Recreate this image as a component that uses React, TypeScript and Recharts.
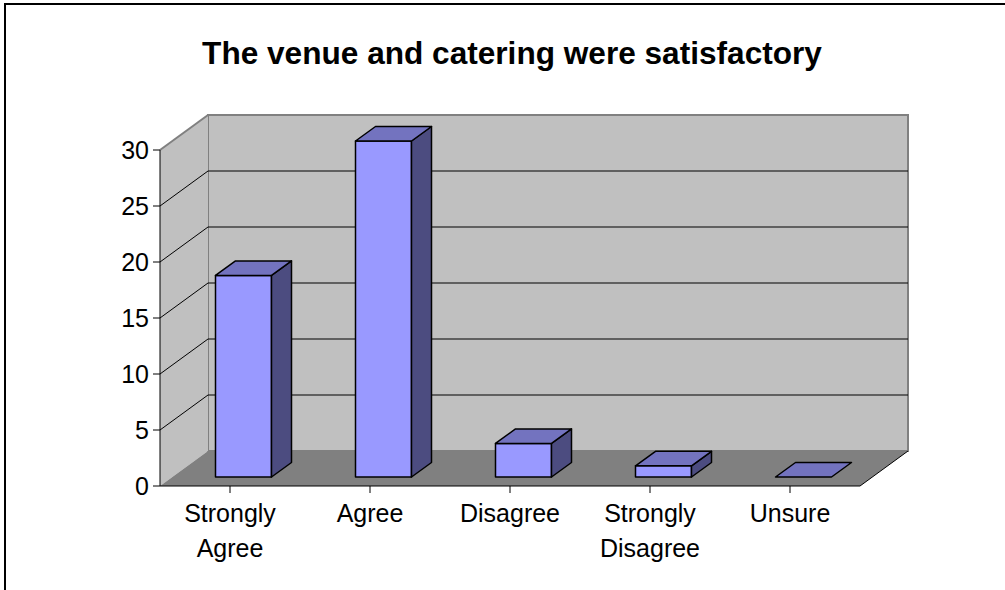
import React from "react";
import { BarChart, Bar, XAxis, YAxis, ReferenceArea } from "recharts";

// survey answers
const categories = ["Strongly Agree", "Agree", "Disagree", "Strongly Disagree", "Unsure"];
const responses = [18, 30, 3, 1, 0];
const yTicks = [0, 5, 10, 15, 20, 25, 30];

const data = categories.map((name, i) => ({ name, value: responses[i] }));

const FONT = '"Liberation Sans", Arial, Helvetica, sans-serif';

// fake 3d: how far the back wall sits from the front plane
const DEPTH_X = 48;
const DEPTH_Y = -35;
// where the bar front sits and how deep the bar is
const BAR_DX = 13.5;
const BAR_DY = -9;
const BAR_DEPTH_X = 20;
const BAR_DEPTH_Y = -14.5;

function Walls(props: any) {
  const { x, y, width, height } = props;
  const l = x, r = x + width, t = y, b = y + height;
  const yMax = yTicks[yTicks.length - 1];
  const gridYs = yTicks.filter((v) => v > 0 && v < yMax).map((v) => b - (height * v) / yMax);
  return (
    <g>
      <rect x={l + DEPTH_X} y={t + DEPTH_Y} width={width} height={height} fill="#c0c0c0" stroke="#808080" strokeWidth={2} />
      <polygon
        points={`${l},${t} ${l + DEPTH_X},${t + DEPTH_Y} ${l + DEPTH_X},${b + DEPTH_Y} ${l},${b}`}
        fill="#c0c0c0"
      />
      <line x1={l} y1={t} x2={l + DEPTH_X} y2={t + DEPTH_Y} stroke="#808080" strokeWidth={2} />
      <polygon
        points={`${l},${b} ${l + DEPTH_X},${b + DEPTH_Y} ${r + DEPTH_X},${b + DEPTH_Y} ${r},${b}`}
        fill="#808080"
      />
      {gridYs.map((gy) => (
        <g key={gy}>
          <line x1={l} y1={gy} x2={l + DEPTH_X} y2={gy + DEPTH_Y} stroke="#000" strokeWidth={1} />
          <line x1={l + DEPTH_X} y1={gy + DEPTH_Y} x2={r + DEPTH_X} y2={gy + DEPTH_Y} stroke="#000" strokeWidth={1} />
        </g>
      ))}
      <line x1={r} y1={b} x2={r + DEPTH_X} y2={b + DEPTH_Y} stroke="#000" strokeWidth={1} />
    </g>
  );
}

function Bar3D(props: any) {
  const { x, y, width, height } = props;
  const fx = x + BAR_DX;
  const fy = y + BAR_DY;
  const h = Math.max(0, height);
  const ddx = BAR_DEPTH_X, ddy = BAR_DEPTH_Y;
  const top = `${fx},${fy} ${fx + ddx},${fy + ddy} ${fx + width + ddx},${fy + ddy} ${fx + width},${fy}`;
  const side = `${fx + width},${fy} ${fx + width + ddx},${fy + ddy} ${fx + width + ddx},${fy + h + ddy} ${fx + width},${fy + h}`;
  return (
    <g stroke="#000" strokeWidth={1.5} strokeLinejoin="round">
      {h > 0 && <rect x={fx} y={fy} width={width} height={h} fill="#9999ff" />}
      {h > 0 && <polygon points={side} fill="#4c4c80" />}
      <polygon points={top} fill="#7373bf" />
    </g>
  );
}

function CategoryTick(props: any) {
  const { x, y, payload } = props;
  const lines = String(payload.value).split(" ");
  return (
    <text x={x} y={y} textAnchor="middle" fill="#000" fontSize={25} fontFamily={FONT}>
      {lines.map((s, i) => (
        <tspan key={i} x={x} dy={i === 0 ? 27 : 34.5}>
          {s}
        </tspan>
      ))}
    </text>
  );
}

export default function App() {
  return (
    <div style={{ position: "absolute", left: 0, top: 0, width: 1005, height: 590, background: "#fff" }}>
      <BarChart
        width={1005}
        height={590}
        data={data}
        barSize={56}
        margin={{ top: 150, right: 145, bottom: 44, left: 100 }}
      >
        <ReferenceArea y1={0} y2={30} ifOverflow="visible" shape={<Walls />} />
        <XAxis
          dataKey="name"
          interval={0}
          height={60}
          tickSize={7}
          tickLine={{ stroke: "#000" }}
          axisLine={{ stroke: "#000" }}
          tick={<CategoryTick />}
        />
        <YAxis
          width={60}
          domain={[0, 30]}
          ticks={yTicks}
          tickSize={7}
          tickMargin={4}
          tickLine={{ stroke: "#000" }}
          axisLine={{ stroke: "#000" }}
          tick={{ fill: "#000", fontSize: 25, fontFamily: FONT }}
        />
        <Bar dataKey="value" isAnimationActive={false} shape={<Bar3D />} />
      </BarChart>
      <svg width={1005} height={590} style={{ position: "absolute", left: 0, top: 0, pointerEvents: "none" }}>
        <rect x={5} y={4} width={1100} height={700} fill="none" stroke="#000" strokeWidth={2} />
        <text x={512} y={64} textAnchor="middle" fontFamily={FONT} fontWeight="bold" fontSize={31.6} fill="#000">
          The venue and catering were satisfactory
        </text>
      </svg>
    </div>
  );
}
